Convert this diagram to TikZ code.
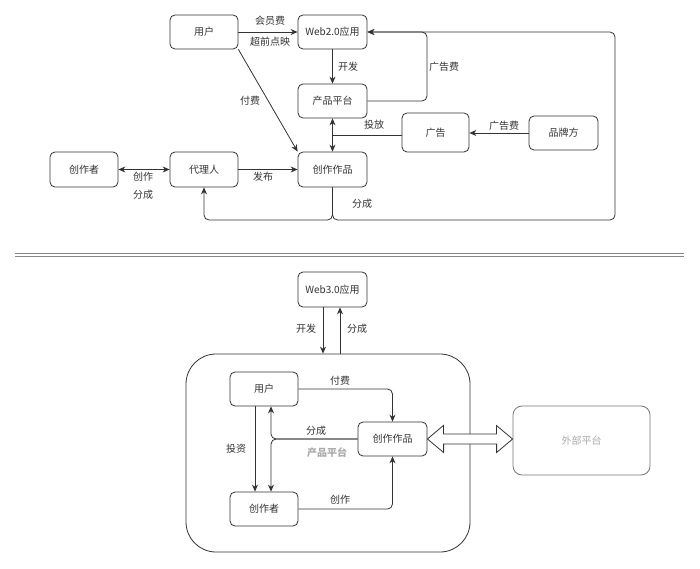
\documentclass[tikz,border=0pt]{standalone}
\usepackage{fontspec}
\setmainfont{Noto Sans CJK SC}
\usetikzlibrary{arrows.meta,calc}
\definecolor{ln}{HTML}{333333}
\definecolor{tx}{HTML}{333333}
\definecolor{lg}{HTML}{AAAAAA}
\definecolor{eb}{HTML}{777777}
\definecolor{sep}{HTML}{888888}
\tikzset{
  box/.style={draw=ln,line width=0.8pt,rounded corners=5pt,minimum width=68pt,minimum height=34pt,inner sep=0pt,text=tx,font=\fontsize{10}{12}\selectfont},
  lbl/.style={text=tx,font=\fontsize{10}{12}\selectfont,inner sep=1pt},
  arr/.style={draw=ln,line width=0.8pt,-{Stealth[length=7pt,width=6pt]}},
  darr/.style={draw=ln,line width=0.8pt,{Stealth[length=7pt,width=6pt]}-{Stealth[length=7pt,width=6pt]}},
  ln/.style={draw=ln,line width=0.8pt},
}
\begin{document}
\begin{tikzpicture}[x=1pt,y=-1pt]
\useasboundingbox (0,0) rectangle (700,569);
\fill[white] (0,0) rectangle (700,569);
% ---------------- top ----------------
\node[box] (u1) at (204,32) {用户};
\node[box,minimum width=69pt] (w2) at (332.5,32) {Web2.0应用};
\node[box,minimum width=69pt] (pp) at (332.5,101) {产品平台};
\node[box,minimum width=69pt,minimum height=35pt] (cw) at (332.5,169.5) {创作作品};
\node[box,minimum height=35pt] (ag) at (204,169.5) {代理人};
\node[box,minimum height=35pt] (cz) at (84,169.5) {创作者};
\node[box,minimum width=67pt,minimum height=39pt] (ad) at (435.5,132.5) {广告};
\node[box,minimum width=69pt] (bp) at (563.5,133) {品牌方};

\draw[arr] (u1.east) -- (w2.west);
\node[lbl] at (270,21) {会员费};
\node[lbl] at (270,42) {超前点映};
\draw[arr] (u1.south east) -- (cw.north west);
\node[lbl] at (250,101) {付费};
\draw[arr] (w2.south) -- (pp.north);
\node[lbl] at (348,67) {开发};
\draw[arr,rounded corners=5pt] (pp.east) -- (427,101) -- (427,32) -- (w2.east);
\node[lbl] at (444,67) {广告费};
\draw[arr] (bp.west) -- (ad.east |- bp.west);
\node[lbl] at (504,126) {广告费};
\coordinate (adj) at (332.5,135);
\draw[ln] (ad.west |- adj) -- (adj);
\draw[arr] (adj) -- (pp.south);
\draw[arr] (adj) -- (cw.north);
\node[lbl] at (374,125) {投放};
\draw[darr] (cz.east) -- (ag.west);
\node[lbl] at (143,177) {创作};
\node[lbl] at (143,195) {分成};
\draw[arr] (ag.east) -- (cw.west);
\node[lbl] at (263,177) {发布};
\coordinate (cwj) at (332.5,220);
\draw[arr,rounded corners=5pt] (cw.south) -- (cwj) -- (204,220) -- (ag.south);
\draw[arr,rounded corners=5pt] (cw.south) -- (cwj) -- (615,220) -- (615,32) -- (w2.east);
\node[lbl] at (362,204) {分成};
% ---------------- separator ----------------
\draw[sep,line width=1.3pt] (15,253.3) -- (684,253.3);
\draw[sep,line width=1.3pt] (15,256.7) -- (684,256.7);
% ---------------- bottom ----------------
\node[box,minimum width=69pt,minimum height=35pt] (w3) at (332.5,289.5) {Web3.0应用};
\node[draw=ln,line width=0.8pt,rounded corners=30pt,minimum width=284pt,minimum height=198pt,inner sep=0pt] (pb) at (328,453) {};
\node[text=lg,font=\fontsize{10}{12}\selectfont\bfseries] (pbl) at (327,453) {产品平台};
\node[box] (u2) at (264,389) {用户};
\node[box] (cz2) at (264,509) {创作者};
\node[box,minimum width=69pt] (cw2) at (392.5,439) {创作作品};
\node[box,draw=eb,text=lg,minimum width=137pt,minimum height=69pt,rounded corners=9pt] (ext) at (581.5,440.5) {外部平台};

\draw[arr] ([xshift=-9.5pt]w3.south) -- ([xshift=-9.5pt]w3.south |- pb.north);
\node[lbl] at (306,329) {开发};
\draw[arr] ([xshift=7.5pt]w3.south |- pb.north) -- ([xshift=7.5pt]w3.south);
\node[lbl] at (357,329) {分成};
\draw[arr,rounded corners=5pt] (u2.east) -- (cw2.north |- u2.east) -- (cw2.north);
\node[lbl] at (340,381) {付费};
\draw[arr,rounded corners=5pt] (cz2.east) -- (cw2.south |- cz2.east) -- (cw2.south);
\node[lbl] at (340,500) {创作};
\draw[arr] ([xshift=-9pt]u2.south) -- ([xshift=-9pt]u2.south |- cz2.north);
\node[lbl] at (236,449) {投资};
\coordinate (fj) at (271,439);
\draw[arr,rounded corners=5pt] (cw2.west) -- (fj) -- (u2.south -| fj);
\draw[arr,rounded corners=5pt] (cw2.west) -- (fj) -- (cz2.north -| fj);
\node[lbl] at (316,431) {分成};
\draw[ln,fill=white,line join=miter] (cw2.east) -- ++(16,-13.5) -- ++(0,8.5) -- ++(53,0) -- ++(0,-8.5) -- (ext.west |- cw2.east) -- ++(-16,13.5) -- ++(0,-8.5) -- ++(-53,0) -- ++(0,8.5) -- cycle;
\end{tikzpicture}
\end{document}
